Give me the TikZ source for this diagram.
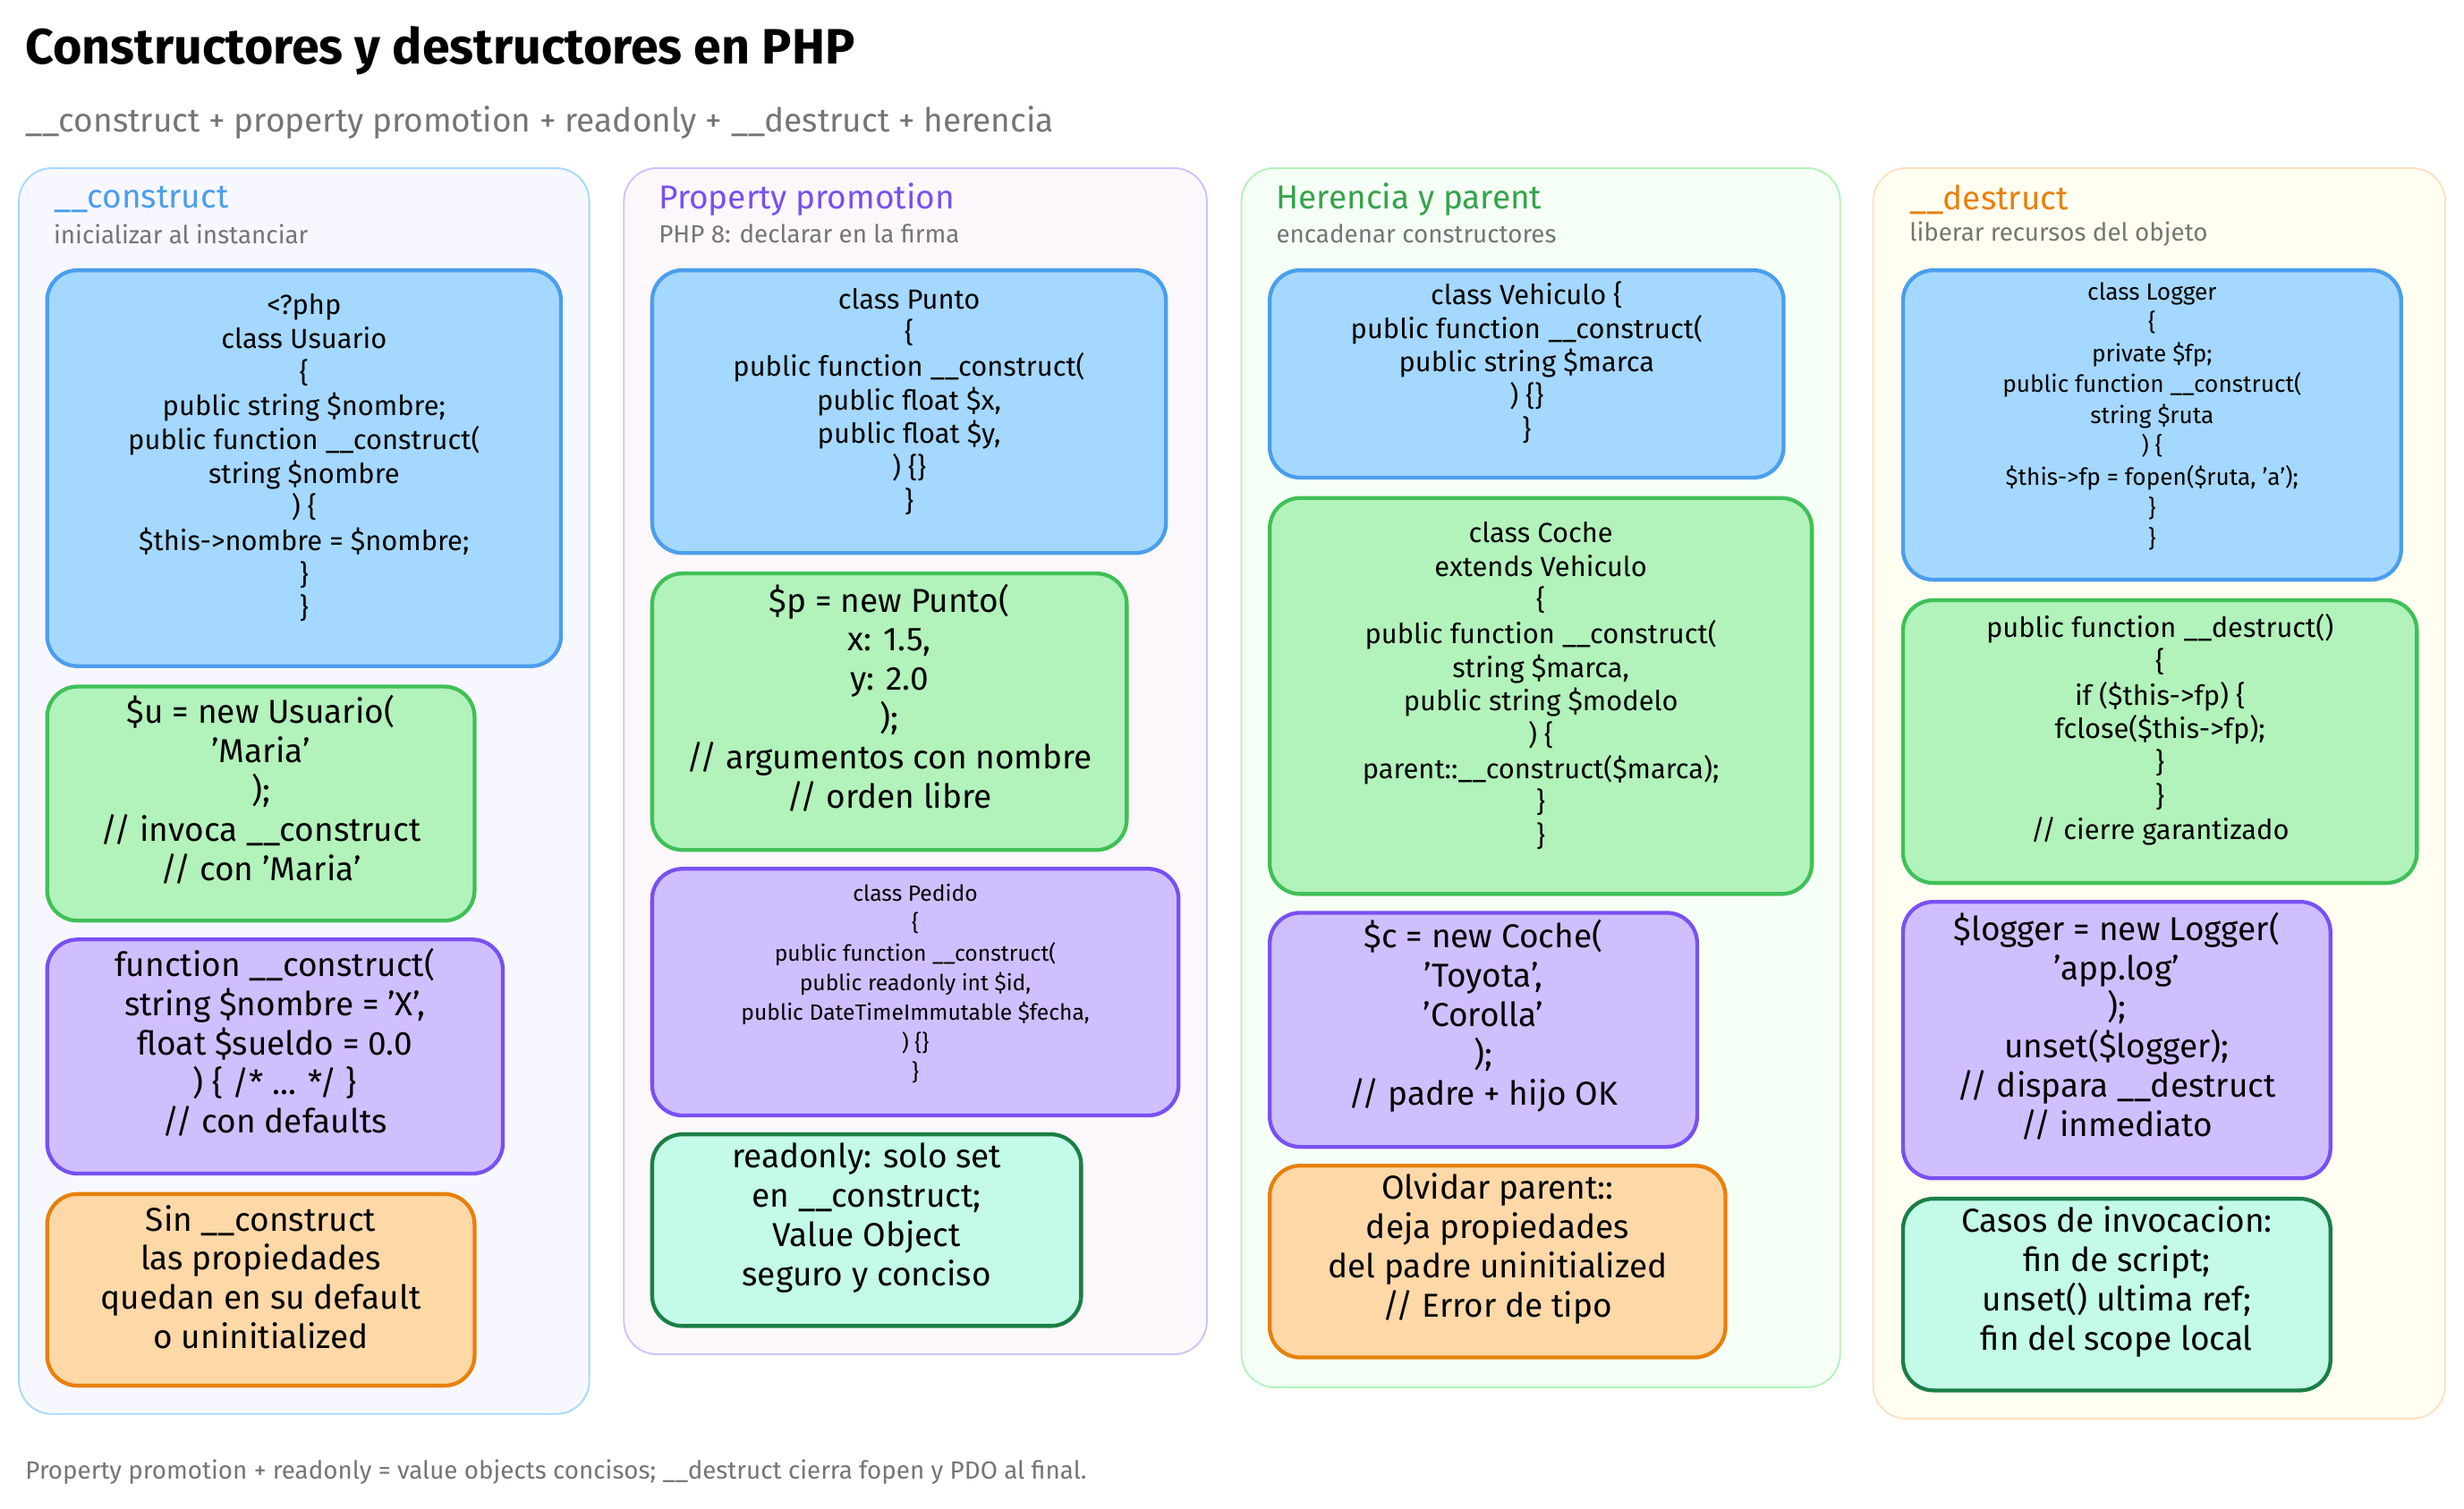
\documentclass[tikz,border=0pt]{standalone}
\usepackage{fontspec}
\setmainfont{Fira Sans}
\usetikzlibrary{fit}
\definecolor{bluef}{HTML}{A5D8FF}\definecolor{blued}{HTML}{4A9EED}
\definecolor{greenf}{HTML}{B2F2BB}\definecolor{greend}{HTML}{40C057}
\definecolor{purpf}{HTML}{D0BFFF}\definecolor{purpd}{HTML}{7950F2}
\definecolor{orgf}{HTML}{FFD8A8}\definecolor{orgd}{HTML}{E8800C}
\definecolor{tealf}{HTML}{C3FAE8}\definecolor{teald}{HTML}{1B7F45}
\definecolor{txtg}{HTML}{757575}
\tikzset{
  col/.style={rounded corners=12pt, line width=0.6pt, inner sep=0pt},
  card/.style={rounded corners=11pt, line width=1.4pt, inner sep=0pt, align=center, font=\fontsize{10}{12.2}\selectfont},
  bluecard/.style={card, fill=bluef, draw=blued},
  greencard/.style={card, fill=greenf, draw=greend},
  purpcard/.style={card, fill=purpf, draw=purpd},
  orgcard/.style={card, fill=orgf, draw=orgd},
  tealcard/.style={card, fill=tealf, draw=teald},
  big/.style={font=\fontsize{12}{14.2}\selectfont},
  small/.style={font=\fontsize{8}{10.8}\selectfont},
  head/.style={anchor=west, font=\fontsize{12}{14}\selectfont},
  sub/.style={anchor=west, text=txtg, font=\fontsize{9}{11}\selectfont},
}
\begin{document}
\begin{tikzpicture}[x=0.02cm, y=-0.02cm]
\useasboundingbox (0,0) rectangle (1568,960);
\fill[white] (0,0) rectangle (1568,960);

% title
\node[anchor=west, font=\fontsize{18}{20}\selectfont\bfseries] (title) at (10,32) {Constructores y destructores en PHP};
\node[anchor=west, text=txtg, font=\fontsize{12}{14}\selectfont] (subtitle) at (10,78) {\_\_construct + property promotion + readonly + \_\_destruct + herencia};

% columns
\node[col, fill=blue!3, draw=bluef, fit={(12,107) (375,900)}] (colA) {};
\node[col, fill=violet!3, draw=purpf, fit={(397,107) (768,862)}] (colB) {};
\node[col, fill=green!4, draw=greenf, fit={(790,107) (1171,883)}] (colC) {};
\node[col, fill=yellow!6, draw=orange!25, fit={(1192,107) (1556,903)}] (colD) {};

\node[head, text=blued] (hA) at (28,127) {\_\_construct};
\node[sub] (sA) at (28,149) {inicializar al instanciar};
\node[head, text=purpd] (hB) at (413,127) {Property promotion};
\node[sub] (sB) at (413,149) {PHP 8: declarar en la firma};
\node[head, text=greend!85!black] (hC) at (806,127) {Herencia y parent};
\node[sub] (sC) at (806,149) {encadenar constructores};
\node[head, text=orgd] (hD) at (1209,127) {\_\_destruct};
\node[sub] (sD) at (1209,149) {liberar recursos del objeto};

% column A
\node[bluecard, fit={(30,172) (357,424)}] (a1) {<?php\\class Usuario\\\{\\public string \$nombre;\\public function \_\_construct(\\string \$nombre\\) \{\\\$this->nombre = \$nombre;\\\}\\\}};
\node[greencard, big, fit={(30,437) (302,586)}] (a2) {\$u = new Usuario(\\'Maria'\\);\\// invoca \_\_construct\\// con 'Maria'};
\node[purpcard, big, fit={(30,598) (320,747)}] (a3) {function \_\_construct(\\string \$nombre = 'X',\\float \$sueldo = 0.0\\) \{ /* ... */ \}\\// con defaults};
\node[orgcard, big, fit={(30,760) (302,882)}] (a4) {Sin \_\_construct\\las propiedades\\quedan en su default\\o uninitialized};

% column B
\node[bluecard, fit={(415,172) (742,352)}] (b1) {class Punto\\\{\\public function \_\_construct(\\public float \$x,\\public float \$y,\\) \{\}\\\}};
\node[greencard, big, fit={(415,365) (717,541)}] (b2) {\$p = new Punto(\\x: 1.5,\\y: 2.0\\);\\// argumentos con nombre\\// orden libre};
\node[purpcard, small, fit={(415,553) (750,710)}] (b3) {class Pedido\\\{\\public function \_\_construct(\\public readonly int \$id,\\public DateTimeImmutable \$fecha,\\) \{\}\\\}};
\node[tealcard, big, fit={(415,722) (688,844)}] (b4) {readonly: solo set\\en \_\_construct;\\Value Object\\seguro y conciso};

% column C
\node[bluecard, fit={(808,172) (1135,304)}] (c1) {class Vehiculo \{\\public function \_\_construct(\\public string \$marca\\) \{\}\\\}};
\node[greencard, fit={(808,317) (1153,569)}] (c2) {class Coche\\extends Vehiculo\\\{\\public function \_\_construct(\\string \$marca,\\public string \$modelo\\) \{\\parent::\_\_construct(\$marca);\\\}\\\}};
\node[purpcard, big, fit={(808,581) (1080,730)}] (c3) {\$c = new Coche(\\'Toyota',\\'Corolla'\\);\\// padre + hijo OK};
\node[orgcard, big, fit={(808,742) (1098,864)}] (c4) {Olvidar parent::\\deja propiedades\\del padre uninitialized\\// Error de tipo};

% column D
\node[bluecard, font=\fontsize{8.5}{11.2}\selectfont, fit={(1211,172) (1528,369)}] (d1) {class Logger\\\{\\private \$fp;\\public function \_\_construct(\\string \$ruta\\) \{\\\$this->fp = fopen(\$ruta, 'a');\\\}\\\}};
\node[greencard, fit={(1211,382) (1538,562)}] (d2) {public function \_\_destruct()\\\{\\if (\$this->fp) \{\\fclose(\$this->fp);\\\}\\\}\\// cierre garantizado};
\node[purpcard, big, fit={(1211,574) (1483,750)}] (d3) {\$logger = new Logger(\\'app.log'\\);\\unset(\$logger);\\// dispara \_\_destruct\\// inmediato};
\node[tealcard, big, fit={(1211,763) (1483,885)}] (d4) {Casos de invocacion:\\fin de script;\\unset() ultima ref;\\fin del scope local};

% footer
\node[anchor=west, text=txtg, font=\fontsize{9}{11}\selectfont] (foot) at (10,937) {Property promotion + readonly = value objects concisos; \_\_destruct cierra fopen y PDO al final.};
\end{tikzpicture}
\end{document}
